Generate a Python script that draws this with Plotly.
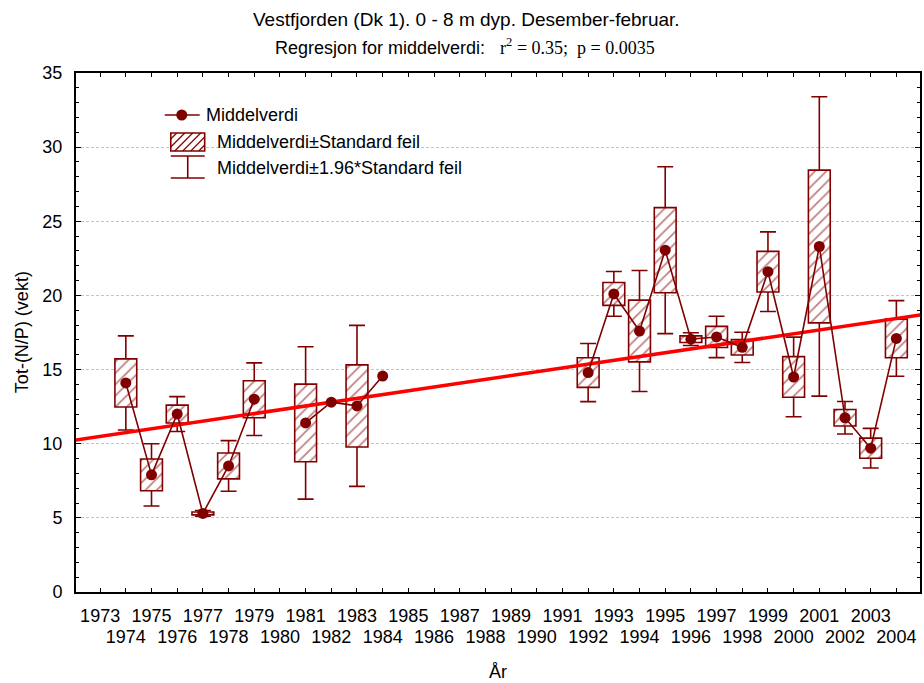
import plotly.graph_objects as go

# Winter (Dec-Feb) Tot-(N/P) ratio, 0-8 m, Vestfjorden (Dk 1)
years = list(range(1974, 2005))
mean_values = [14.1, 7.9, 12.0, 5.3, 8.5, 13.0, None, 11.4, 12.8, 12.55, 14.56,
               None, None, None, None, None, None, None,
               14.8, 20.1, 17.6, 23.05, 17.05, 17.2, 16.5, 21.6, 14.5, 23.3, 11.75, 9.7, 17.1]
std_errors = [1.62, 1.07, 0.6, 0.1, 0.87, 1.25, None, 2.62, None, 2.77, None,
              None, None, None, None, None, None, None,
              1.0, 0.77, 2.08, 2.87, 0.22, 0.71, 0.52, 1.37, 1.37, 5.15, 0.56, 0.68, 1.3]

# Linear regression of the yearly means (end points of the fitted line)
trend_years = [1972, 2005]
trend_values = [10.235, 18.70]

tick_years = list(range(1973, 2005))
y_ticks = [0, 5, 10, 15, 20, 25, 30, 35]

DARK_RED = "#800000"
FONT = "Liberation Sans, Arial, sans-serif"

# Plot-area geometry (pixels)
L, T, W, H = 76, 73, 846, 519
FIG_W, FIG_H = 924, 683


def px(x):
    return (x - L) / W


def py(y):
    return (T + H - y) / H


box_years = [y for y, s in zip(years, std_errors) if s is not None]
box_mean = [m for m, s in zip(mean_values, std_errors) if s is not None]
box_se = [s for s in std_errors if s is not None]

fig = go.Figure()

# ±1.96*SE whiskers (error bars on an invisible bar), drawn beneath the boxes
fig.add_trace(go.Bar(
    x=box_years, y=box_mean, width=0.85,
    marker=dict(color="rgba(0,0,0,0)", line=dict(width=0)),
    error_y=dict(type="data", array=[1.96 * s for s in box_se],
                 color=DARK_RED, thickness=1.6, width=8),
    showlegend=False, hoverinfo="skip",
))

# ±SE hatched boxes
fig.add_trace(go.Bar(
    x=box_years, y=[2 * s for s in box_se], base=[m - s for m, s in zip(box_mean, box_se)],
    width=0.85,
    marker=dict(color="white", line=dict(color=DARK_RED, width=1.6),
                pattern=dict(shape="/", fgcolor=DARK_RED, bgcolor="white",
                             size=8, solidity=0.22)),
    showlegend=False, hoverinfo="skip",
))

# Regression line
fig.add_trace(go.Scatter(
    x=trend_years, y=trend_values, mode="lines",
    line=dict(color="#ff0000", width=3.5), showlegend=False, hoverinfo="skip",
))

# Yearly means
fig.add_trace(go.Scatter(
    x=years, y=mean_values, mode="lines+markers", connectgaps=False,
    line=dict(color=DARK_RED, width=1.6),
    marker=dict(color=DARK_RED, size=11),
    showlegend=False,
))

axis_common = dict(showline=True, linecolor="black", linewidth=2, mirror="ticks",
                   ticks="inside", tickcolor="black", zeroline=False)

fig.update_layout(
    width=FIG_W, height=FIG_H,
    margin=dict(l=L, r=FIG_W - L - W, t=T, b=FIG_H - T - H),
    paper_bgcolor="white", plot_bgcolor="white",
    barmode="overlay",
    font=dict(family=FONT, size=18, color="black"),
    xaxis=dict(range=[1972.06, 2004.92], tickvals=tick_years,
               ticktext=[str(y) if y % 2 else "" for y in tick_years],
               ticklen=4, showgrid=False, ticklabelstandoff=6, **axis_common),
    xaxis2=dict(range=[1972.06, 2004.92], overlaying="x", anchor="y", side="bottom",
                tickvals=tick_years,
                ticktext=[str(y) if y % 2 == 0 else "" for y in tick_years],
                ticks="", showline=False, showgrid=False, zeroline=False,
                ticklabelstandoff=32),
    yaxis=dict(range=[0, 35], tickvals=y_ticks, ticklen=5,
               showgrid=True, gridcolor="#c4c4c4", griddash="3px,2px", gridwidth=1,
               minor=dict(dtick=1, ticks="inside", ticklen=3, tickcolor="black",
                          showgrid=False),
               ticklabelstandoff=8, **axis_common),
)

# Dummy trace so the secondary x axis (even-year labels) is rendered
fig.add_trace(go.Scatter(x=[None], y=[None], xaxis="x2", showlegend=False, hoverinfo="skip"))

annotations = [
    dict(text="Vestfjorden (Dk 1). 0 - 8 m dyp. Desember-februar.",
         x=px(467), y=py(20), font=dict(size=19)),
    dict(text="Regresjon for middelverdi:&nbsp;&nbsp; "
              "<span style='font-family:Liberation Serif, Times New Roman, serif'>"
              "r<sup>2</sup> = 0.35;&nbsp; p = 0.0035</span>",
         x=px(466), y=py(47), font=dict(size=18)),
    dict(text="Tot-(N/P) (vekt)", x=px(22), y=py(332), textangle=-90),
    dict(text="År", x=px(499), y=py(672)),
    dict(text="Middelverdi", x=px(204), y=py(115), xanchor="left"),
    dict(text="Middelverdi±Standard feil", x=px(215), y=py(142), xanchor="left"),
    dict(text="Middelverdi±1.96*Standard feil", x=px(215), y=py(168), xanchor="left"),
]
for a in annotations:
    a.setdefault("xanchor", "center")
    fig.add_annotation(xref="paper", yref="paper", showarrow=False, yanchor="middle", **a)

# Hand-drawn legend glyphs
shapes = []
line_style = dict(color=DARK_RED, width=1.6)
# mean: line with dot
shapes.append(dict(type="line", x0=px(165), x1=px(200), y0=py(115), y1=py(115), line=line_style))
shapes.append(dict(type="circle", x0=px(176.5), x1=px(187.5), y0=py(109.5), y1=py(120.5),
                   fillcolor=DARK_RED, line=dict(color=DARK_RED, width=0)))
# ±SE: hatched rectangle
bx0, bx1, by0, by1 = 171, 205, 133, 151
shapes.append(dict(type="rect", x0=px(bx0), x1=px(bx1), y0=py(by0), y1=py(by1),
                   fillcolor="white", line=line_style))
c = bx0 + by0 + 6
while c < bx1 + by1:
    xa = max(bx0, c - by1)
    xb = min(bx1, c - by0)
    if xb > xa:
        shapes.append(dict(type="line", x0=px(xa), y0=py(c - xa), x1=px(xb), y1=py(c - xb),
                           line=dict(color=DARK_RED, width=1.2)))
    c += 8
# ±1.96*SE: whisker
shapes.append(dict(type="line", x0=px(188), x1=px(188), y0=py(156), y1=py(178), line=line_style))
shapes.append(dict(type="line", x0=px(171), x1=px(205), y0=py(156), y1=py(156), line=line_style))
shapes.append(dict(type="line", x0=px(171), x1=px(205), y0=py(178), y1=py(178), line=line_style))
for s in shapes:
    fig.add_shape(xref="paper", yref="paper", **s)

fig.write_html("out.html")
